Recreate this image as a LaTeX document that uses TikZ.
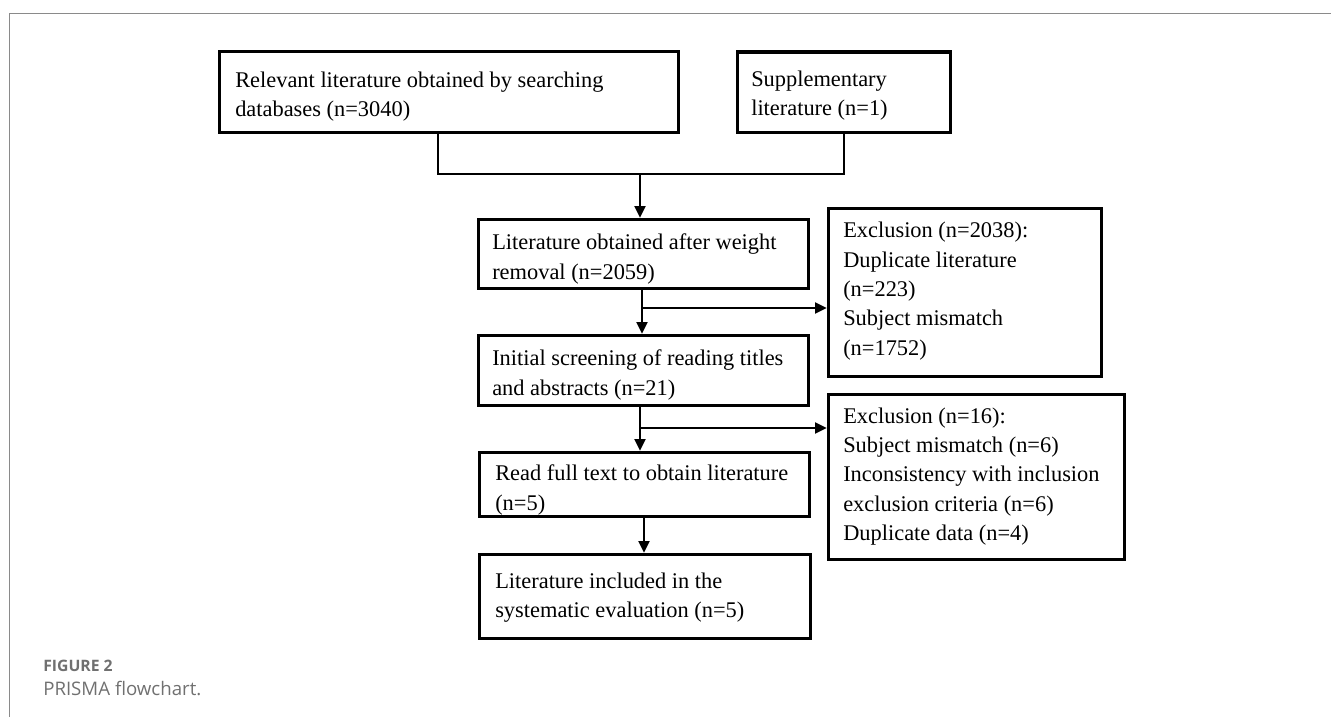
\documentclass[tikz,border=0pt]{standalone}
\usepackage{fontspec}
\setmainfont{Liberation Serif}
\newfontfamily\capfont{Open Sans}
\usetikzlibrary{arrows.meta}
\definecolor{framegray}{HTML}{8A8A8A}
\definecolor{capgray}{HTML}{707070}
\begin{document}
\begin{tikzpicture}[x=0.75pt,y=-0.75pt,
  box/.style={draw, line width=2.4pt, inner sep=0pt, anchor=north west},
  txt/.style={inner sep=0pt, anchor=base west, align=left, font=\fontsize{16.8}{22}\selectfont},
  conn/.style={line width=2.1pt, line join=miter},
  arr/.style={conn, -{Triangle[length=9pt,width=8pt]}},
  captxt/.style={inner sep=0pt, anchor=base west, text=capgray}
]
\useasboundingbox (0,0) rectangle (1331,717);
% frame
\draw[framegray, line width=1.1pt] (9.3,717) -- (9.3,13.3) -- (1331,13.3);

% boxes
\node[box, minimum width=459*0.75pt, minimum height=81*0.75pt] (b1) at (218,50) {};
\node[box, minimum width=213*0.75pt, minimum height=80*0.75pt] (b2) at (736,50.5) {};
\node[box, minimum width=330*0.75pt, minimum height=69*0.75pt] (b3) at (477,218) {};
\node[box, minimum width=330*0.75pt, minimum height=70*0.75pt] (b4) at (477,334) {};
\node[box, minimum width=330*0.75pt, minimum height=64*0.75pt] (b5) at (478,451) {};
\node[box, minimum width=331*0.75pt, minimum height=84*0.75pt] (b6) at (478,553) {};
\node[box, minimum width=273*0.75pt, minimum height=168*0.75pt] (e1) at (827,207) {};
\node[box, minimum width=296*0.75pt, minimum height=165*0.75pt] (e2) at (827,393) {};

% texts (anchored at the baseline of the last line)
\node[txt] (t1) at (235,117) {Relevant literature obtained by searching\\databases (n=3040)};
\node[txt] (t2) at (751,115.5) {Supplementary\\literature (n=1)};
\node[txt] (t3) at (492,279) {Literature obtained after weight\\removal (n=2059)};
\node[txt] (t4) at (492,395) {Initial screening of reading titles\\and abstracts (n=21)};
\node[txt] (t5) at (495,510) {Read full text to obtain literature\\(n=5)};
\node[txt] (t6) at (495,617.5) {Literature included in the\\systematic evaluation (n=5)};
\node[txt] (t7) at (843,355) {Exclusion (n=2038):\\Duplicate literature\\(n=223)\\Subject mismatch\\(n=1752)};
\node[txt] (t8) at (843,540.5) {Exclusion (n=16):\\Subject mismatch (n=6)\\Inconsistency with inclusion\\exclusion criteria (n=6)\\Duplicate data (n=4)};

% junctions
\coordinate (m1) at (438,174);
\coordinate (m2) at (844,174);
\coordinate (mj) at (640,174);
\coordinate (s1) at (642,308);
\coordinate (s2) at (640,428);
\coordinate (s3) at (644,534);

% connectors
\draw[conn] (b1.south -| m1) -- (m1) -- (m2) -- (b2.south -| m2);
\draw[arr] (mj) -- (b3.north -| mj);
\draw[arr] (b3.south -| s1) -- (b4.north -| s1);
\draw[arr] (s1) -- (e1.west |- s1);
\draw[arr] (b4.south -| s2) -- (b5.north -| s2);
\draw[arr] (s2) -- (e2.west |- s2);
\draw[arr] (b5.south -| s3) -- (b6.north -| s3);

% caption
\node[captxt, font=\capfont\bfseries\fontsize{11.8}{14}\selectfont] (c1) at (43,671) {FIGURE 2};
\node[captxt, font=\capfont\fontsize{14}{16}\selectfont] (c2) at (43,695) {PRISMA flowchart.};
\end{tikzpicture}
\end{document}
